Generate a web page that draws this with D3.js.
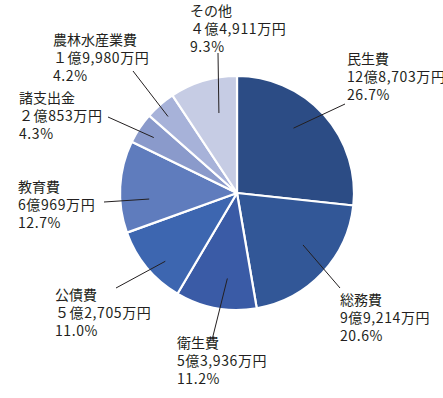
<!DOCTYPE html>
<html>
<head>
<meta charset="utf-8">
<script src="https://cdn.jsdelivr.net/npm/d3@7"></script>
<style>
body { margin: 0; background: #fff; }
text { font-family: "Noto Sans CJK JP", "Noto Sans", sans-serif; font-size: 14px; fill: #231f20; }
.num { letter-spacing: 0.6px; }
.leader { stroke: #231f20; stroke-width: 1; fill: none; }
</style>
</head>
<body>
<div class="graphic"></div>
<script>
// values (clockwise from 12 o'clock)
const categories = ["民生費", "総務費", "衛生費", "公債費", "教育費", "諸支出金", "農林水産業費", "その他"]
const amounts = ["12億8,703万円", "9億9,214万円", "5億3,936万円", "５億2,705万円", "6億969万円", "２億853万円", "１億9,980万円", "４億4,911万円"]
const percents = [26.7, 20.6, 11.2, 11.0, 12.7, 4.3, 4.2, 9.3]
const colors = ["#2c4c85", "#325797", "#3a5ba6", "#3d66b0", "#5f7cbd", "#8a9acb", "#a7b2d9", "#c6cce4"]

// label placement: text left/first line center, leader outer point, leader inner radius
const layout = [
    {x: 347, y: 59, lx: 345, ly: 104, r: 86, da: -7},
    {x: 340, y: 300, lx: 340, ly: 288, r: 84, da: -5},
    {x: 177, y: 343, lx: 212, ly: 340, r: 86, da: -4},
    {x: 55, y: 295, lx: 116, ly: 288, r: 99, da: -4},
    {x: 18, y: 187, lx: 104, ly: 202, r: 88, da: -7},
    {x: 19, y: 98, lx: 108, ly: 117, r: 100, da: 0},
    {x: 53, y: 40, lx: 133, ly: 71, r: 103, da: -1},
    {x: 190, y: 11, lx: 218, ly: 53, r: 82, da: 4}
]

const width = 443, height = 398
const cx = 237, cy = 193, radius = 117

const svg = d3.select(".graphic").append("svg")
    .attr("width", width)
    .attr("height", height)

const data = categories.map((c, i) => ({name: c, amount: amounts[i], pct: percents[i], i: i}))

const pie = d3.pie().value(d => d.pct).sort(null)
const arc = d3.arc().innerRadius(0).outerRadius(radius)

const g = svg.append("g").attr("transform", `translate(${cx},${cy})`)

const arcs = pie(data)

g.selectAll("path.slice")
    .data(arcs)
    .enter()
    .append("path")
    .attr("class", "slice")
    .attr("d", arc)
    .attr("fill", d => colors[d.data.i])
    .attr("stroke", "#fff")
    .attr("stroke-width", 2.2)
    .attr("stroke-linejoin", "round")

// leader lines
arcs.forEach(function(d) {
    const L = layout[d.data.i]
    const mid = (d.startAngle + d.endAngle) / 2 + L.da * Math.PI / 180
    const ix = cx + L.r * Math.sin(mid)
    const iy = cy - L.r * Math.cos(mid)
    svg.append("path")
        .attr("class", "leader")
        .attr("d", `M${L.lx},${L.ly} L${ix},${iy}`)
})

// labels
data.forEach(function(d) {
    const L = layout[d.i]
    const t = svg.append("text")
        .attr("x", L.x)
        .attr("y", L.y)
    const lines = [d.name, d.amount, d.pct.toFixed(1) + "%"]
    lines.forEach(function(s, k) {
        t.append("tspan")
            .attr("class", k > 0 ? "num" : null)
            .attr("x", L.x)
            .attr("y", L.y + k * 18)
            .attr("dy", "0.35em")
            .text(s)
    })
})
</script>
</body>
</html>
